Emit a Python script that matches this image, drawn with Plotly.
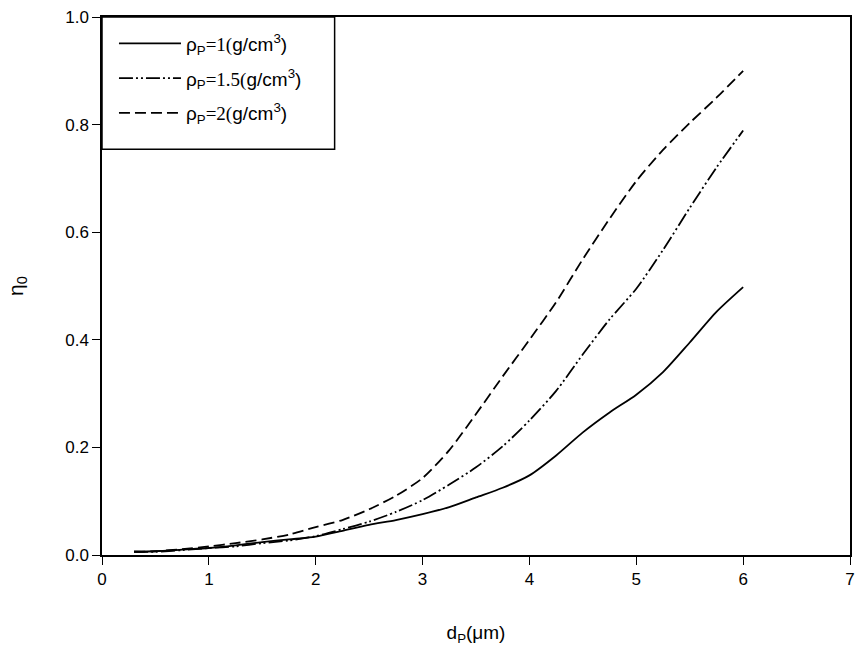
import plotly.graph_objects as go

x_vals = [0.3, 0.5, 0.75, 1.0, 1.25, 1.5, 1.75, 2.0, 2.25, 2.5, 2.75, 3.0,
          3.25, 3.5, 3.75, 4.0, 4.25, 4.5, 4.75, 5.0, 5.25, 5.5, 5.75, 6.0]

eta_rho1 = [0.006, 0.007, 0.010, 0.013, 0.018, 0.024, 0.029, 0.034, 0.045, 0.056, 0.065, 0.076,
            0.089, 0.107, 0.125, 0.148, 0.185, 0.228, 0.265, 0.298, 0.340, 0.395, 0.452, 0.498]
eta_rho15 = [0.006, 0.006, 0.009, 0.013, 0.016, 0.022, 0.027, 0.035, 0.048, 0.062, 0.080, 0.102,
             0.131, 0.163, 0.202, 0.250, 0.305, 0.373, 0.438, 0.495, 0.567, 0.645, 0.720, 0.789]
eta_rho2 = [0.006, 0.007, 0.011, 0.016, 0.022, 0.029, 0.038, 0.052, 0.065, 0.085, 0.110, 0.143,
            0.195, 0.262, 0.332, 0.400, 0.470, 0.550, 0.625, 0.695, 0.753, 0.803, 0.850, 0.900]

serif = "'Liberation Serif', 'Times New Roman', serif"
def lab(num):
    return ("ρ<sub>P</sub><span style=\"font-family:" + serif + "\">=" + num + "(</span>"
            "g/cm<sup>3</sup>)")

series = [
    (lab("1"), eta_rho1, "solid"),
    (lab("1.5"), eta_rho15, "14px,3px,2px,3px,2px,3px"),
    (lab("2"), eta_rho2, "11px,5px"),
]

fig = go.Figure()
for i, (name, ys, dash) in enumerate(series):
    fig.add_trace(go.Scatter(
        x=x_vals, y=ys, mode="lines", name=name,
        line=dict(color="black", width=1.8, dash=dash, shape="spline", smoothing=0.7),
        legendgroup="g%d" % i,
    ))

axis_common = dict(
    showline=True, linecolor="black", linewidth=1.5, mirror=True,
    ticks="outside", ticklen=8, tickwidth=1.2, tickcolor="black",
    showgrid=False, zeroline=False,
    tickfont=dict(family="Liberation Sans, Arial, sans-serif", size=17, color="black"),
)

# plot area: 102..855 px horizontally, 14..555 px vertically
fig.update_layout(
    width=863, height=660,
    margin=dict(l=102, r=8, t=14, b=105),
    paper_bgcolor="white", plot_bgcolor="white",
    font=dict(family="Liberation Sans, Arial, sans-serif", color="black"),
    xaxis=dict(range=[0, 7], dtick=1, tick0=0,
               title=dict(text="d<sub>P</sub>(μm)", font=dict(size=19), standoff=38),
               **axis_common),
    yaxis=dict(range=[0, 1.0], dtick=0.2, tick0=0, tickformat=".1f",
               title=dict(text="η<sub>0</sub>", font=dict(size=21), standoff=36),
               **axis_common),
    legend=dict(
        x=0.016, y=0.986, xanchor="left", yanchor="top",
        borderwidth=0, bgcolor="rgba(0,0,0,0)",
        font=dict(size=19, color="black"),
        itemwidth=62, tracegroupgap=7,
    ),
    shapes=[dict(type="rect", xref="paper", yref="paper",
                 x0=0, x1=0.311, y0=0.754, y1=1.0,
                 line=dict(color="black", width=1.5), fillcolor="white", layer="above")],
    showlegend=True,
)

fig.write_html("out.html")
